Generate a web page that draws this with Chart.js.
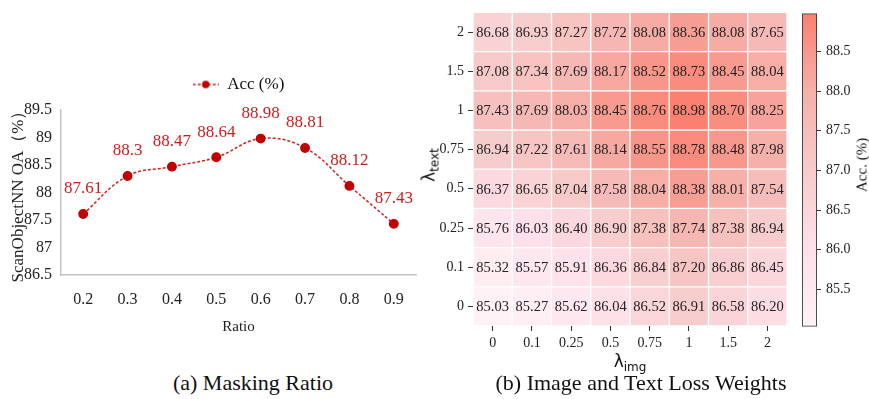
<!DOCTYPE html>
<html>
<head>
<meta charset="utf-8">
<script src="https://cdn.jsdelivr.net/npm/chart.js@4.4.1/dist/chart.umd.min.js"></script>
<style>
  html, body { margin: 0; padding: 0; background: #fff; }
  body { width: 869px; height: 399px; position: relative; overflow: hidden; }
  canvas { position: absolute; }
  .txt { position: absolute; white-space: nowrap; color: #111; }
  .cap { font-family: "Liberation Serif", serif; font-size: 22px; transform: translate(-50%, -50%); }
  .lam { font-family: "DejaVu Sans", sans-serif; font-size: 17px; }
  .lam sub { font-size: 12px; vertical-align: -4px; }
</style>
</head>
<body>
<canvas id="lineChart" width="430" height="345" style="left:0;top:0;"></canvas>
<canvas id="heatChart" width="375" height="375" style="left:420px;top:0;"></canvas>
<canvas id="barChart" width="74" height="340" style="left:795px;top:0;"></canvas>

<div class="txt lam" id="yTitleHeat" style="left:430px;top:165px;transform:translate(-50%,-50%) rotate(-90deg);">λ<sub>text</sub></div>
<div class="txt lam" id="xTitleHeat" style="left:630px;top:362px;transform:translate(-50%,-50%);">λ<sub>img</sub></div>
<div class="txt" style="left:862px;top:165px;transform:translate(-50%,-50%) rotate(-90deg);font-family:'Liberation Serif',serif;font-size:15px;">Acc. (%)</div>
<div class="txt cap" style="left:253px;top:383px;">(a) Masking Ratio</div>
<div class="txt cap" style="left:641px;top:383px;">(b) Image and Text Loss Weights</div>

<script>
// ---------- Data: (a) Masking ratio ----------
const ratioLabels = ['0.2', '0.3', '0.4', '0.5', '0.6', '0.7', '0.8', '0.9'];
const accValues = [87.61, 88.3, 88.47, 88.64, 88.98, 88.81, 88.12, 87.43];
const lineYTicks = [86.5, 87, 87.5, 88, 88.5, 89, 89.5];

// ---------- Data: (b) loss weights heatmap ----------
const lambdaImg = ['0', '0.1', '0.25', '0.5', '0.75', '1', '1.5', '2'];
const lambdaText = ['0', '0.1', '0.25', '0.5', '0.75', '1', '1.5', '2']; // bottom -> top
const rowText0    = [85.03, 85.27, 85.62, 86.04, 86.52, 86.91, 86.58, 86.20];
const rowText0_1  = [85.32, 85.57, 85.91, 86.36, 86.84, 87.20, 86.86, 86.45];
const rowText0_25 = [85.76, 86.03, 86.40, 86.90, 87.38, 87.74, 87.38, 86.94];
const rowText0_5  = [86.37, 86.65, 87.04, 87.58, 88.04, 88.38, 88.01, 87.54];
const rowText0_75 = [86.94, 87.22, 87.61, 88.14, 88.55, 88.78, 88.48, 87.98];
const rowText1    = [87.43, 87.69, 88.03, 88.45, 88.76, 88.98, 88.70, 88.25];
const rowText1_5  = [87.08, 87.34, 87.69, 88.17, 88.52, 88.73, 88.45, 88.04];
const rowText2    = [86.68, 86.93, 87.27, 87.72, 88.08, 88.36, 88.08, 87.65];
const heatRows = [rowText0, rowText0_1, rowText0_25, rowText0_5, rowText0_75, rowText1, rowText1_5, rowText2];
const colorbarTicks = [85.5, 86.0, 86.5, 87.0, 87.5, 88.0, 88.5];

// ---------- Colormap ----------
const allVals = heatRows.flat();
const vMin = Math.min(...allVals);
const vMax = Math.max(...allVals);
const cmapStops = [
  [0.00, [255, 242, 246]],
  [0.25, [254, 224, 234]],
  [0.50, [247, 203, 203]],
  [0.75, [246, 176, 170]],
  [1.00, [250, 128, 112]]
];
function cmap(v) {
  let t = (v - vMin) / (vMax - vMin);
  t = Math.max(0, Math.min(1, t));
  for (let i = 1; i < cmapStops.length; i++) {
    const [t1, c1] = cmapStops[i];
    const [t0, c0] = cmapStops[i - 1];
    if (t <= t1) {
      const f = (t - t0) / (t1 - t0);
      const c = c0.map((a, k) => Math.round(a + (c1[k] - a) * f));
      return `rgb(${c[0]},${c[1]},${c[2]})`;
    }
  }
  return 'rgb(250,128,112)';
}

const SERIF = "'Liberation Serif', 'Times New Roman', serif";

// ---------- Chart (a) ----------
const marker = document.createElement('canvas');
marker.width = 26; marker.height = 10;
(function () {
  const c = marker.getContext('2d');
  c.strokeStyle = '#d42020'; c.lineWidth = 1.5; c.setLineDash([3, 2]);
  c.beginPath(); c.moveTo(0, 5); c.lineTo(26, 5); c.stroke();
  c.fillStyle = '#c00000';
  c.beginPath(); c.arc(13, 5, 3.8, 0, Math.PI * 2); c.fill();
})();

const pointLabelPlugin = {
  id: 'pointLabels',
  afterDatasetsDraw(chart) {
    const ctx = chart.ctx;
    const meta = chart.getDatasetMeta(0);
    ctx.save();
    ctx.font = `17px ${SERIF}`;
    ctx.fillStyle = '#d01c1c';
    ctx.textAlign = 'center';
    ctx.textBaseline = 'middle';
    meta.data.forEach((pt, i) => {
      ctx.fillText(String(chart.data.datasets[0].data[i]), pt.x, pt.y - 25);
    });
    ctx.restore();
  }
};

new Chart(document.getElementById('lineChart'), {
  type: 'line',
  data: {
    labels: ratioLabels,
    datasets: [{
      label: 'Acc (%)',
      data: accValues,
      borderColor: '#d42020',
      borderWidth: 1.5,
      borderDash: [3, 2],
      tension: 0.4,
      pointRadius: 4.2,
      pointBackgroundColor: '#c00000',
      pointBorderColor: '#c00000',
      fill: false
    }]
  },
  options: {
    responsive: false,
    animation: false,
    layout: { padding: { left: 0, right: 14, top: 66, bottom: 0 } },
    plugins: {
      tooltip: { enabled: false },
      legend: {
        display: true,
        position: 'top',
        fullSize: false,
        labels: {
          usePointStyle: true,
          pointStyle: marker,
          pointStyleWidth: 26,
          padding: 10,
          color: '#111',
          font: { family: SERIF, size: 17 }
        }
      }
    },
    scales: {
      x: {
        type: 'category',
        offset: true,
        grid: { display: false, drawTicks: false },
        border: { display: true, color: '#c4c4c4', width: 1.5 },
        ticks: { color: '#222', padding: 15, font: { family: SERIF, size: 16 } },
        title: { display: true, text: 'Ratio', color: '#222', font: { family: SERIF, size: 15 }, padding: { top: 0, bottom: 9 } },
        afterFit(s) { s.height = 70; }
      },
      x2: {
        type: 'category',
        position: 'top',
        display: true,
        grid: { display: false, drawTicks: false },
        border: { display: false },
        ticks: { display: false },
        afterFit(s) { s.height = 7; }
      },
      y: {
        type: 'linear',
        min: 86.5,
        max: 89.5,
        grid: { display: false, drawTicks: false },
        border: { display: true, color: '#c4c4c4', width: 1.5 },
        afterBuildTicks(s) { s.ticks = lineYTicks.map(v => ({ value: v })); },
        ticks: { color: '#222', padding: 9, font: { family: SERIF, size: 16 }, callback: v => String(v) },
        title: { display: true, text: 'ScanObjectNN OA（%）', color: '#222', font: { family: SERIF, size: 17 }, padding: { top: 8, bottom: 0 } },
        afterFit(s) { s.width = 61; }
      }
    }
  },
  plugins: [pointLabelPlugin]
});

// ---------- Chart (b) heatmap ----------
const cellTextPlugin = {
  id: 'cellText',
  afterDatasetsDraw(chart) {
    const ctx = chart.ctx;
    ctx.save();
    ctx.font = `14.5px ${SERIF}`;
    ctx.fillStyle = '#222';
    ctx.textAlign = 'center';
    ctx.textBaseline = 'middle';
    chart.data.datasets.forEach((ds, di) => {
      const meta = chart.getDatasetMeta(di);
      meta.data.forEach((el, i) => {
        ctx.fillText(ds.values[i].toFixed(2), el.x, (el.y + el.base) / 2 + 1);
      });
    });
    ctx.restore();
  }
};

const heatDatasets = heatRows.map((row, r) => ({
  label: 'λtext=' + lambdaText[r],
  values: row,
  data: row.map(() => [r, r + 1]),
  backgroundColor: row.map(v => cmap(v)),
  borderColor: '#ffffff',
  borderWidth: 1,
  borderSkipped: false,
  grouped: false,
  barPercentage: 1,
  categoryPercentage: 1
}));

new Chart(document.getElementById('heatChart'), {
  type: 'bar',
  data: { labels: lambdaImg, datasets: heatDatasets },
  options: {
    responsive: false,
    animation: false,
    layout: { padding: { left: 0, right: 8, top: 5, bottom: 0 } },
    plugins: { legend: { display: false }, tooltip: { enabled: false } },
    scales: {
      x: {
        type: 'category',
        grid: { display: true, drawOnChartArea: false, drawTicks: true, tickLength: 5, color: '#333', offset: false },
        border: { display: false },
        ticks: { color: '#222', padding: 4, font: { family: SERIF, size: 14 } },
        afterFit(s) { s.height = 49; }
      },
      y: {
        type: 'linear',
        min: 0,
        max: 8,
        grid: { display: true, drawOnChartArea: false, drawTicks: true, tickLength: 5, color: '#333' },
        border: { display: false },
        afterBuildTicks(s) { s.ticks = lambdaText.map((_, i) => ({ value: i + 0.5 })); },
        ticks: { color: '#222', padding: 4, font: { family: SERIF, size: 14 }, callback: v => lambdaText[Math.floor(v)] },
        afterFit(s) { s.width = 53; }
      }
    }
  },
  plugins: [cellTextPlugin]
});

// ---------- Colorbar ----------
new Chart(document.getElementById('barChart'), {
  type: 'bar',
  data: {
    labels: ['Acc. (%)'],
    datasets: [{
      data: [[vMin, vMax]],
      backgroundColor(context) {
        const { ctx, chartArea } = context.chart;
        if (!chartArea) return null;
        const g = ctx.createLinearGradient(0, chartArea.bottom, 0, chartArea.top);
        cmapStops.forEach(([t, c]) => g.addColorStop(t, `rgb(${c[0]},${c[1]},${c[2]})`));
        return g;
      },
      borderColor: '#333',
      borderWidth: 1.2,
      borderSkipped: false,
      barPercentage: 1,
      categoryPercentage: 1
    }]
  },
  options: {
    responsive: false,
    animation: false,
    layout: { padding: { left: 7, right: 0, top: 3, bottom: 13 } },
    plugins: { legend: { display: false }, tooltip: { enabled: false } },
    scales: {
      x: { display: false },
      y: {
        type: 'linear',
        position: 'right',
        min: vMin,
        max: vMax,
        grid: { display: true, drawOnChartArea: false, drawTicks: true, tickLength: 4, color: '#333' },
        border: { display: false },
        afterBuildTicks(s) { s.ticks = colorbarTicks.map(v => ({ value: v })); },
        ticks: { color: '#222', padding: 5, font: { family: SERIF, size: 14 }, callback: v => Number(v).toFixed(1) },
        afterFit(s) { s.width = 52; }
      }
    }
  }
});
</script>
</body>
</html>
